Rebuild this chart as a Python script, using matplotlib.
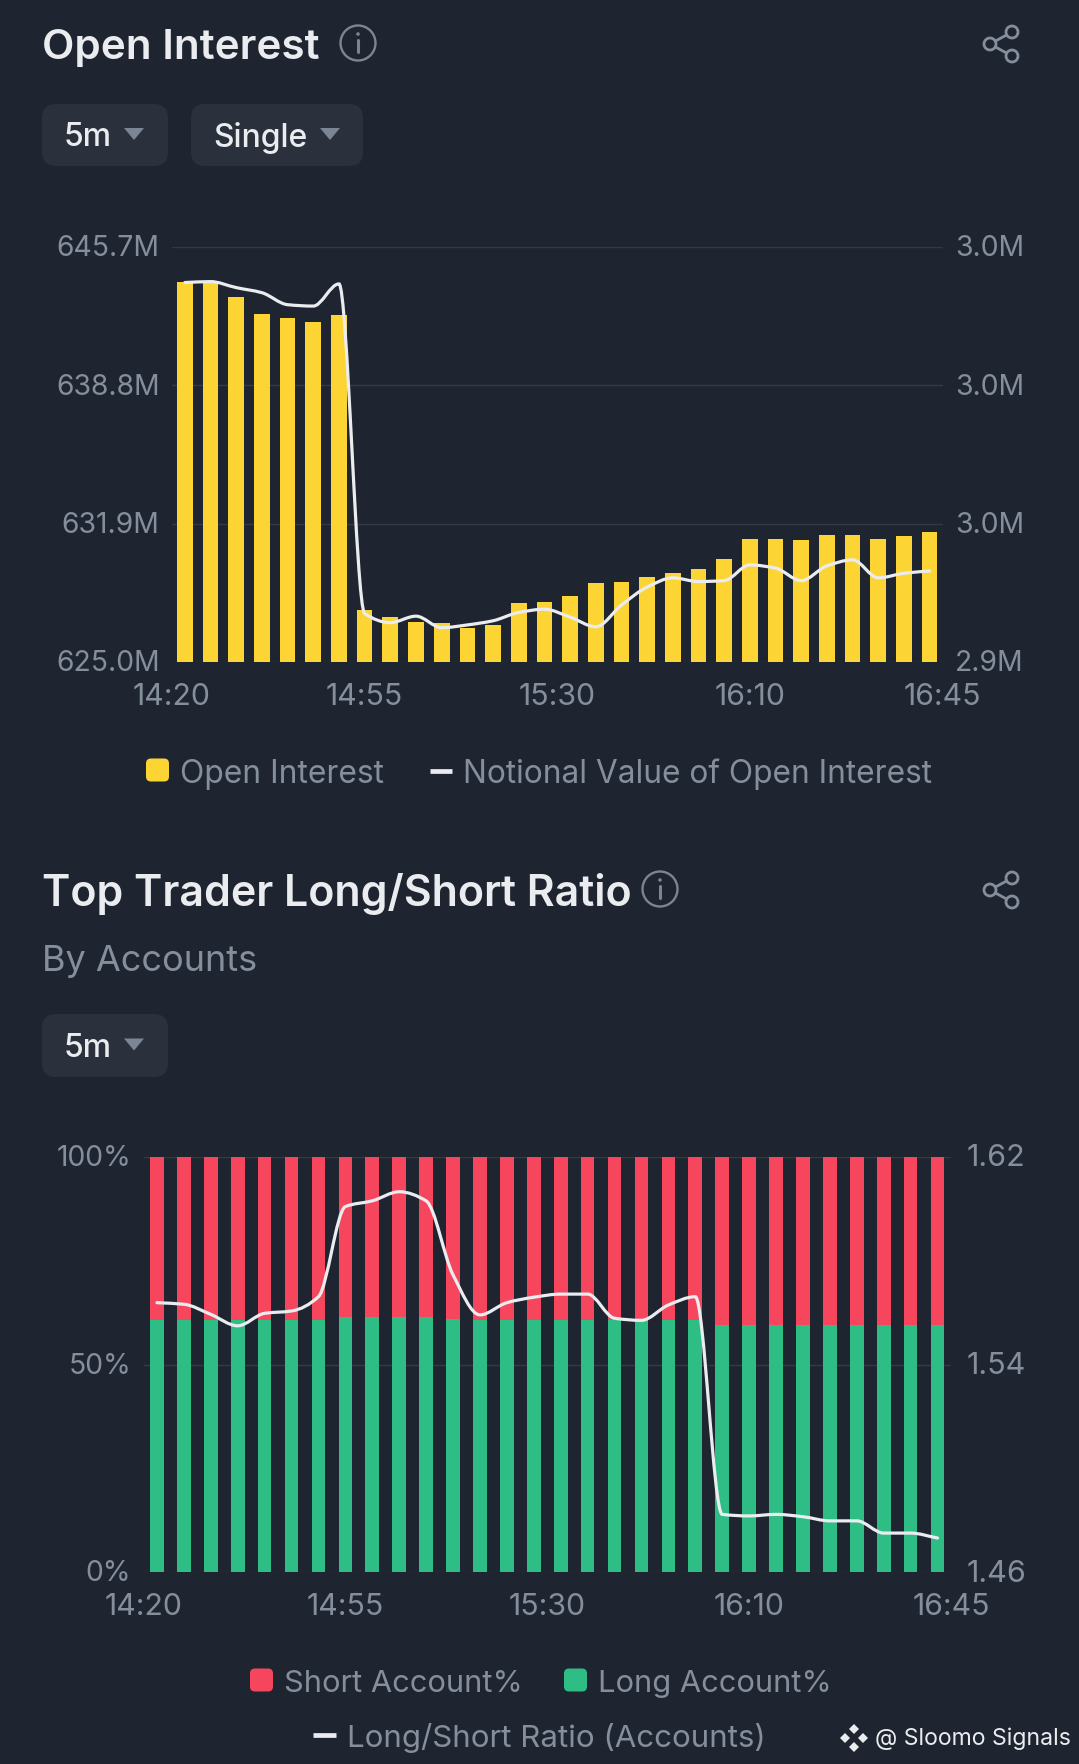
import matplotlib
matplotlib.use("Agg")
from matplotlib import pyplot as plt
from matplotlib.patches import Circle, FancyBboxPatch, PathPatch, Polygon
from matplotlib.path import Path
from matplotlib.transforms import ScaledTranslation
import numpy as np

# first chart
oi_values = [643.97, 643.97, 643.21, 642.36, 642.16, 641.98, 642.29, 627.61, 627.24, 627.01,
             626.94, 626.72, 626.87, 627.97, 628.02, 628.30, 628.97, 629.00, 629.24, 629.47,
             629.64, 630.16, 631.16, 631.15, 631.08, 631.34, 631.34, 631.16, 631.30, 631.48]
notional = [3.0223, 3.0225, 3.0212, 3.0201, 3.0175, 3.0172, 3.0220, 2.9506, 2.9486, 2.9500,
            2.9475, 2.9481, 2.9490, 2.9508, 2.9515, 2.9498, 2.9477, 2.9524, 2.9563, 2.9583,
            2.9575, 2.9577, 2.9611, 2.9604, 2.9577, 2.9609, 2.9622, 2.9583, 2.9593, 2.9598]
oi_ticks = [625.0, 631.9, 638.8, 645.7]
notional_ticks = [2.94, 2.97, 3.00, 3.03]

# second chart
long_pct = [60.8, 60.8, 60.8, 60.8, 60.8, 60.8, 60.8, 61.4, 61.4, 61.4,
            61.4, 60.9, 60.8, 60.8, 60.8, 60.8, 60.8, 60.8, 60.8, 60.8,
            60.8, 59.5, 59.5, 59.5, 59.5, 59.5, 59.5, 59.5, 59.5, 59.5]
ratio = [1.5638, 1.5632, 1.5593, 1.5549, 1.5597, 1.5606, 1.5661, 1.6008, 1.6030, 1.6065,
         1.6030, 1.5745, 1.5591, 1.5638, 1.5659, 1.5671, 1.5671, 1.5578, 1.5570, 1.5629,
         1.5661, 1.4823, 1.4817, 1.4823, 1.4814, 1.4798, 1.4798, 1.4751, 1.4751, 1.4732]
pct_ticks = [0, 50, 100]
ratio_ticks = [1.46, 1.54, 1.62]

time_labels = ["14:20", "14:55", "15:30", "16:10", "16:45"]

BG = "#1E2530"
CHIP = "#2A313C"
GRID = "#333A45"
GREY = "#848E9C"
WHITE = "#EAECEF"
YELLOW = "#FCD535"
RED = "#F6465D"
GREEN = "#2EBD85"
W, H = 1079, 1764

plt.rcParams["font.family"] = ["Inter", "DejaVu Sans"]


# monotone curve through the points, so the line bends like the app's one
def smooth_line(xs, ys):
    xs = np.asarray(xs, dtype=float)
    ys = np.asarray(ys, dtype=float)
    slopes = np.diff(ys) / np.diff(xs)
    tang = np.zeros(len(xs))
    for i in range(1, len(xs) - 1):
        if slopes[i - 1] * slopes[i] > 0:
            tang[i] = 2 * slopes[i - 1] * slopes[i] / (slopes[i - 1] + slopes[i])
    tang[0] = slopes[0]
    tang[-1] = slopes[-1]
    verts = [(xs[0], ys[0])]
    codes = [Path.MOVETO]
    for i in range(len(xs) - 1):
        h = (xs[i + 1] - xs[i]) / 3
        verts += [(xs[i] + h, ys[i] + tang[i] * h),
                  (xs[i + 1] - h, ys[i + 1] - tang[i + 1] * h),
                  (xs[i + 1], ys[i + 1])]
        codes += [Path.CURVE4] * 3
    return Path(verts, codes)


def make_axes(fig, left, right, top, bottom, ylim, ticks, labels, pad):
    ax = fig.add_axes([left / W, 1 - bottom / H, (right - left) / W, (bottom - top) / H])
    ax.set_facecolor("none")
    ax.set_xlim(-0.5, 29.5)
    ax.set_ylim(*ylim)
    ax.set_yticks(ticks, labels)
    ax.set_xticks(np.linspace(-0.5, 29.5, 5), time_labels)
    ax.tick_params(length=0, labelcolor=GREY)
    ax.tick_params(axis="y", pad=pad, labelsize=20.4)
    ax.tick_params(axis="x", pad=15, labelsize=21.8)
    ax.grid(axis="y", color=GRID, lw=1)
    ax.set_axisbelow(True)
    for s in ax.spines.values():
        s.set_visible(False)
    return ax


def right_axis(ax, ylim, ticks, labels, pad, size):
    ax2 = ax.twinx()
    ax2.set_ylim(*ylim)
    ax2.set_yticks(ticks, labels)
    ax2.tick_params(length=0, labelcolor=GREY, labelsize=size, pad=pad)
    for s in ax2.spines.values():
        s.set_visible(False)
    return ax2


# y tick labels sit a little above their gridlines
def lift_labels(ax):
    for lab in ax.get_yticklabels():
        lab.set_transform(lab.get_transform() + ScaledTranslation(0, 1 / 72, fig.dpi_scale_trans))


fig = plt.figure(figsize=(W / 100, H / 100), dpi=100, facecolor=BG)
idx = np.arange(30)

# Open Interest
ax1 = make_axes(fig, 172, 942.5, 247, 662.3, (625.0, 645.7), oi_ticks,
                ["625.0M", "631.9M", "638.8M", "645.7M"], 9)
ax1.bar(idx, oi_values, bottom=0, width=0.61, color=YELLOW)
ax1r = right_axis(ax1, (2.94, 3.03), notional_ticks, ["2.9M", "3.0M", "3.0M", "3.0M"], 9, 20.4)
ax1r.add_patch(PathPatch(smooth_line(idx, notional), fill=False, ec=WHITE, lw=2.3,
                         capstyle="round"))

# Long/Short
short_pct = 100 - np.array(long_pct)
ax2 = make_axes(fig, 143.5, 951, 1156.7, 1572.3, (0, 100), pct_ticks, ["0%", "50%", "100%"], 9)
ax2.bar(idx, long_pct, width=0.51, color=GREEN)
ax2.bar(idx, short_pct, bottom=long_pct, width=0.51, color=RED)
ax2r = right_axis(ax2, (1.46, 1.62), ratio_ticks, ["1.46", "1.54", "1.62"], 11.5, 22)
ax2r.add_patch(PathPatch(smooth_line(idx, ratio), fill=False, ec=WHITE, lw=2.3,
                         capstyle="round"))

for a in (ax1, ax1r, ax2, ax2r):
    lift_labels(a)

# everything around the plots, in image pixels
ui = fig.add_axes([0, 0, 1, 1], zorder=5)
ui.set_xlim(0, W)
ui.set_ylim(H, 0)
ui.axis("off")


def chip(x0, x1, y0, y1, label, text_x, tri_x):
    ui.add_patch(FancyBboxPatch((x0 + 14, y0 + 14), x1 - x0 - 28, y1 - y0 - 28,
                                boxstyle="round,pad=14,rounding_size=14", fc=CHIP, ec="none"))
    ui.text(text_x, (y0 + y1) / 2 + 3, label, color=WHITE, fontsize=23, va="center", fontweight=500)
    yc = (y0 + y1) / 2 - 2
    ui.add_patch(Polygon([(tri_x - 10, yc - 5), (tri_x + 10, yc - 5), (tri_x, yc + 7)],
                         fc="#7C8594", ec="none"))


def info_icon(x, y):
    ui.add_patch(Circle((x, y), 17.5, fc="none", ec="#7C8594", lw=1.7))
    ui.plot([x, x], [y - 3, y + 9], color="#7C8594", lw=2.2, solid_capstyle="round")
    ui.add_patch(Circle((x, y - 9), 1.8, fc="#7C8594", ec="none"))


def share_icon(x, y):
    pts = [(x + 10, y - 12), (x - 12, y), (x + 10, y + 12)]
    ui.plot([p[0] for p in pts], [p[1] for p in pts], color="#848E9C", lw=2)
    for p in pts:
        ui.add_patch(Circle(p, 6, fc=BG, ec="#848E9C", lw=2, zorder=3))


def swatch(x0, x1, yc, color):
    h = x1 - x0
    ui.add_patch(FancyBboxPatch((x0 + 5, yc - h / 2 + 5), h - 10, h - 10,
                                boxstyle="round,pad=5,rounding_size=5", fc=color, ec="none"))


def dash(x0, x1, yc):
    ui.plot([x0, x1], [yc, yc], color=WHITE, lw=3.4, solid_capstyle="butt")


ui.text(42, 48, "Open Interest", color=WHITE, fontsize=30.4, fontweight=600, va="center")
info_icon(358, 43)
share_icon(1002, 44)
chip(42, 168, 104, 166, "5m", 64, 134)
chip(191, 363, 104, 166, "Single", 213, 330)

swatch(146, 169, 770, YELLOW)
ui.text(180, 774, "Open Interest", color=GREY, fontsize=22.9, va="center")
dash(430, 452, 771)
ui.text(463, 774, "Notional Value of Open Interest", color=GREY, fontsize=22.8, va="center")

ui.text(42, 894, "Top Trader Long/Short Ratio", color=WHITE, fontsize=30.9, fontweight=600, va="center")
info_icon(660, 889)
share_icon(1002, 890)
ui.text(42, 962, "By Accounts", color=GREY, fontsize=26, va="center")
chip(42, 168, 1014, 1077, "5m", 64, 134)

swatch(250, 273, 1680, RED)
ui.text(284, 1684, "Short Account%", color=GREY, fontsize=22.2, va="center")
swatch(564, 587, 1680, GREEN)
ui.text(598, 1684, "Long Account%", color=GREY, fontsize=22.2, va="center")
dash(313, 336, 1735)
ui.text(347, 1738, "Long/Short Ratio (Accounts)", color=GREY, fontsize=22.5, va="center")

# watermark
for dx, dy in [(0, -9), (-9, 0), (9, 0), (0, 9)]:
    ui.add_patch(Polygon([(854 + dx, 1738 + dy - 5), (854 + dx + 5, 1738 + dy),
                          (854 + dx, 1738 + dy + 5), (854 + dx - 5, 1738 + dy)],
                         fc=WHITE, ec="none"))
ui.text(875, 1739, "@ Sloomo Signals", color=WHITE, fontsize=16.6, va="center")

fig.savefig("out.png", dpi=100, facecolor=BG)
